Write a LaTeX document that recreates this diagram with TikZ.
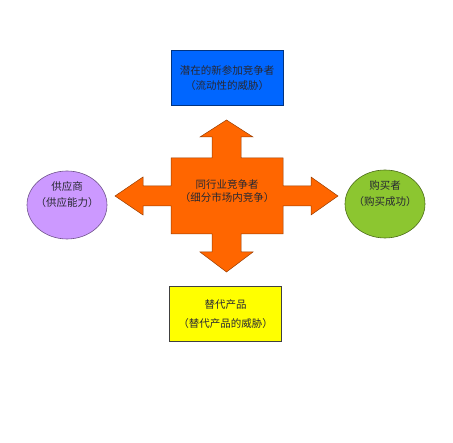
\documentclass[tikz,border=0pt]{standalone}
\usepackage{fontspec}
\setmainfont{Noto Sans CJK SC}
\usetikzlibrary{shapes.geometric}
\definecolor{blueforce}{RGB}{0,102,255}
\definecolor{orangeforce}{RGB}{255,102,0}
\definecolor{yellowforce}{RGB}{255,255,0}
\definecolor{purpleforce}{RGB}{204,153,255}
\definecolor{greenforce}{RGB}{140,198,48}
\definecolor{textdark}{RGB}{40,40,50}

\begin{document}
\begin{tikzpicture}[x=1pt,y=-1pt,font=\fontsize{10.5}{15}\selectfont,text=textdark]
\tikzset{forcebox/.style={draw=black!75,line width=0.6pt,minimum width=112pt,minimum height=55pt,align=center},
  forceoval/.style={ellipse,line width=0.6pt,minimum width=80pt,minimum height=68pt,inner sep=0pt},
  ovaltext/.style={align=center,font=\fontsize{10.5}{16}\selectfont}}
\useasboundingbox (0,0) rectangle (453,443);
% rivalry cross
\draw[fill=orangeforce,draw=orangeforce!60!black,line width=0.5pt]
 (226.5,120)--(253,137)--(241,137)--(241,158)--(283,158)--(283,186)--(311,186)--(311,177)
 --(338,196)--(311,215)--(311,206)--(283,206)--(283,234)--(241,234)--(241,252)--(253,252)
 --(226.5,272)--(200,252)--(212,252)--(212,234)--(171,234)--(171,206)--(143,206)--(143,215)
 --(115,196)--(143,177)--(143,186)--(171,186)--(171,158)--(212,158)--(212,137)--(200,137)--cycle;
\node[align=center,font=\fontsize{10.5}{12.5}\selectfont] (rival) at(227,191){同行业竞争者\\（细分市场内竞争）};
\node[forcebox,fill=blueforce,draw=blueforce!50!black] (entrant) at(227,78){潜在的新参加竞争者\\（流动性的威胁）};
\node[forcebox,fill=yellowforce,font=\fontsize{10.5}{19}\selectfont] (substitute) at(225.5,314){替代产品\\（替代产品的威胁）};
\node[forceoval,fill=purpleforce,draw=purpleforce!55!black] (supplier) at(67,205){};
\node[ovaltext] (suppliertext) at([yshift=10pt]supplier.center){供应商\\（供应能力）};
\node[forceoval,fill=greenforce,draw=greenforce!55!black] (buyer) at(385,204){};
\node[ovaltext] (buyertext) at([yshift=10pt]buyer.center){购买者\\（购买成功）};
\end{tikzpicture}
\end{document}
